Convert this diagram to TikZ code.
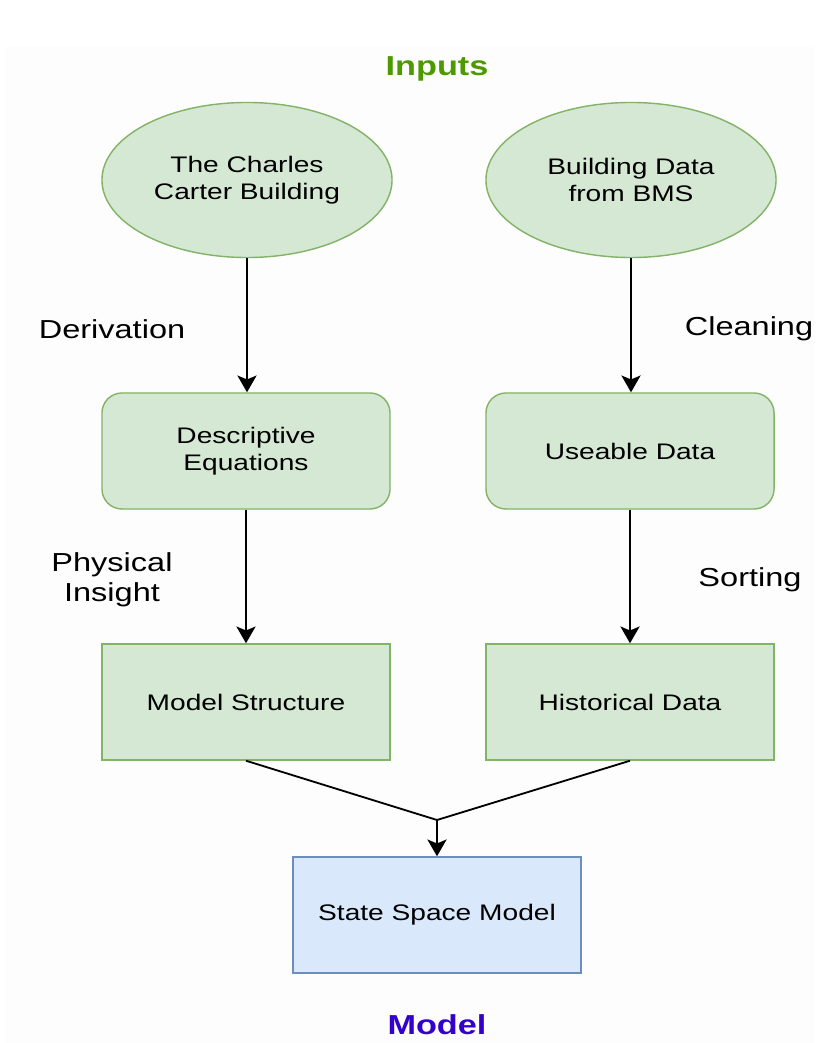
\documentclass[tikz,border=0pt]{standalone}
\usepackage{fontspec}
\setmainfont{Liberation Sans}[FakeStretch=1.25]
\usetikzlibrary{shapes.geometric,arrows.meta}
\definecolor{boxgreen}{HTML}{D5E8D4}
\definecolor{edgegreen}{HTML}{82B366}
\definecolor{boxblue}{HTML}{DAE8FC}
\definecolor{edgeblue}{HTML}{6C8EBF}
\definecolor{inputgreen}{HTML}{4D9900}
\definecolor{modelblue}{HTML}{3300CC}

\begin{document}
\begin{tikzpicture}[x=0.025cm, y=-0.025cm,
    every node/.style={align=center, font=\fontsize{16}{19.5}\selectfont},
    source/.style={ellipse, draw=edgegreen, fill=boxgreen, line width=1pt,
        minimum width=7.25cm, minimum height=3.875cm, inner sep=0pt},
    stage/.style={rectangle, rounded corners=0.5cm, draw=edgegreen, fill=boxgreen,
        line width=1pt, minimum width=7.2cm, minimum height=2.9cm, inner sep=0pt},
    block/.style={rectangle, draw=edgegreen, fill=boxgreen, line width=1pt,
        minimum width=7.2cm, minimum height=2.9cm, inner sep=0pt},
    result/.style={block, draw=edgeblue, fill=boxblue},
    steplabel/.style={font=\fontsize{18.5}{21.5}\selectfont},
    heading/.style={font=\bfseries\fontsize{19.5}{22}\selectfont, inner sep=0pt},
    flow/.style={line width=1.3pt, -{Stealth[length=4.2mm, width=4.8mm, inset=1mm]}}]
    % Page and faint backdrop
    \useasboundingbox (0,0) rectangle (815,1043);
    \fill[black!0.7] (5,47) rectangle (815,1043);
    % Titles
    \node[heading, text=inputgreen] (inputs) at (437,69) {Inputs};
    \node[heading, text=modelblue, anchor=base] (model) at (437,1034) {Model};
    % Left column: building physics
    \node[source] (building) at (247,180) {The Charles\\Carter Building};
    \node[stage] (equations) at (246,451) {Descriptive\\Equations};
    \node[block] (structure) at (246,702) {Model Structure};
    % Right column: measured data
    \node[source] (bms) at (631,180) {Building Data\\from BMS};
    \node[stage] (useable) at (630,451) {Useable Data};
    \node[block] (historical) at (630,702) {Historical Data};
    % Output
    \node[result] (ssm) at (437,915) {State Space Model};
    % Step labels
    \node[steplabel] (derivation) at (112,329) {Derivation};
    \node[steplabel] (insight) at (112,580) {Physical\\Insight};
    \node[steplabel] (cleaning) at (749,329) {Cleaning};
    \node[steplabel] (sorting) at (750,580) {Sorting};
    % Draw the arrows down each column
    \foreach \a/\b in {building/equations, equations/structure, bms/useable, useable/historical} {
            \draw[flow] (\a.south) -- (\a.south |- \b.north);
        }
    % Join both columns into the model
    \coordinate (merge) at (437,820);
    \draw[line width=1.3pt] (structure.south) -- (merge) -- (historical.south);
    \draw[flow] (merge) -- (ssm.north);
\end{tikzpicture}
\end{document}
